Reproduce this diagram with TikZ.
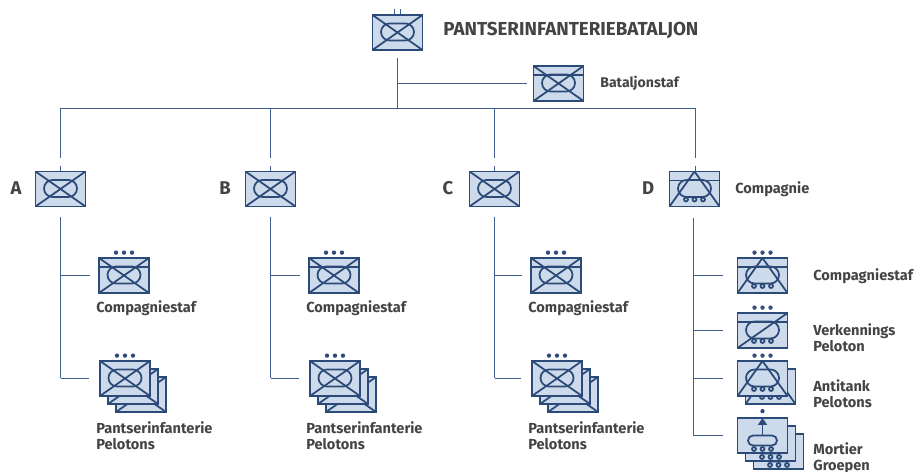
\documentclass[tikz,border=0pt]{standalone}
\usepackage{fontspec}
\setmainfont{Fira Sans}
\usetikzlibrary{arrows.meta}
\definecolor{symblue}{HTML}{2B4A78}
\definecolor{connblue}{HTML}{3F5F8C}
\definecolor{symfill}{HTML}{CDDAEB}
\definecolor{txtgrey}{HTML}{444444}
% symbol parts, drawn from the middle of the box
\newcommand{\partcross}{\draw[symline] (path picture bounding box.north west) -- (path picture bounding box.south east) (path picture bounding box.north east) -- (path picture bounding box.south west);}
\newcommand{\parttri}{\draw[symline] (path picture bounding box.south west) -- (path picture bounding box.north) -- (path picture bounding box.south east);}
\newcommand{\partdiag}{\draw[symline] (path picture bounding box.south west) -- (path picture bounding box.north east);}
\newcommand{\partstaf}{\draw[symline] ([yshift=-0.18cm]path picture bounding box.north west) -- ([yshift=-0.18cm]path picture bounding box.north east);}
\newcommand{\partoval}{\draw[symline, rounded corners=0.17cm, shift={(path picture bounding box.center)}] (-16.5,-9) rectangle (16.5,8);}
\newcommand{\partwheels}[1]{\foreach \wx in {-8.5,0,8.5} \draw[symline, shift={(path picture bounding box.center)}] (\wx,#1) circle (0.04cm);}
\newcommand{\partmortar}{\draw[symline, rounded corners=0.1cm, shift={(path picture bounding box.center)}] (-14.5,0) rectangle (14.5,10);
  \draw[symline, -{Triangle[length=0.14cm,width=0.18cm]}, shift={(path picture bounding box.center)}] (0,0) -- (0,-17.5);}
\newcommand{\unitdots}[1]{\foreach \dx in {-8,0,8} \fill[symblue] ([xshift=\dx*0.02cm,yshift=0.09cm]#1.north) circle (0.043cm);}
\tikzset{
  symline/.style={draw=symblue, line width=1pt},
  conn/.style={draw=connblue, line width=0.75pt},
  unitbox/.style={draw=symblue, fill=symfill, line width=1pt, inner sep=0pt, minimum width=1cm, minimum height=0.7cm},
  infbox/.style={unitbox, path picture={\partoval\partcross}},
  infstaf/.style={unitbox, path picture={\partoval\partstaf\partcross}},
  atkcomp/.style={unitbox, path picture={\partoval\partwheels{10.5}\partstaf\parttri}},
  atkbox/.style={unitbox, path picture={\partoval\partwheels{10.5}\parttri}},
  recbox/.style={unitbox, path picture={\partoval\partwheels{10.5}\partstaf\partdiag}},
  morbox/.style={unitbox, path picture={\partmortar\partwheels{13.5}}},
  lbl/.style={anchor=west, inner sep=0pt, align=left, text=txtgrey, font=\fontsize{8.3}{9.1}\selectfont\bfseries},
  lblbig/.style={lbl, font=\fontsize{10.7}{12}\selectfont\bfseries},
  letter/.style={lbl, anchor=center, font=\fontsize{10.5}{12}\selectfont\bfseries}
}
\begin{document}
\begin{tikzpicture}[x=0.02cm, y=-0.02cm]
\useasboundingbox (0,0) rectangle (917,472);

% Battalion
\node[infbox] (btl) at (397.5,32.5) {};
\node[lblbig] (btltxt) at (443,30) {PANTSERINFANTERIEBATALJON};
\draw[conn] ([xshift=-0.06cm]btl.north) -- ++(0,-5) ([xshift=0.06cm]btl.north) -- ++(0,-5);
\node[infstaf] (btlstaf) at (558.5,83.5) {};
\node[lbl, font=\fontsize{8}{9}\selectfont\bfseries] (btlstaftxt) at (600,83) {Bataljonstaf};
\coordinate (busL) at (60.5,108.5);
\coordinate (busR) at (695.5,108.5);
\draw[conn, shorten <=0.14cm] (btl.south) -- (btl.south |- busL);
\draw[conn, shorten >=0.12cm] (btl.south |- btlstaf.west) -- (btlstaf.west);
\draw[conn] (busL) -- (busR);

% Companies A, B, C
\foreach \co/\x/\sx/\tx/\lx in {A/60.5/124/96/16, B/270.5/334/306/225, C/494.5/556/528/448} {
  \node[infbox] (comp\co) at (\x,189) {};
  \node[letter] (let\co) at (\lx,188) {\co};
  \coordinate (bus\co) at (\x,108.5);
  \draw[conn, shorten >=0.26cm] (bus\co) -- (comp\co.north);
  \draw[conn] (comp\co.north) -- ++(0,-5);
  % Staff
  \node[infstaf] (staf\co) at (\sx,275.5) {};
  \unitdots{staf\co}
  \node[lbl] (staftxt\co) at (\tx,308) {Compagniestaf};
  % Platoons
  \node[infbox] (pel\co c) at (\sx+17,394.5) {};
  \node[infbox] (pel\co b) at (\sx+9,386.5) {};
  \node[infbox] (pel\co) at (\sx+1,378.5) {};
  \unitdots{pel\co}
  \node[lbl] (peltxt\co) at (\tx,436) {Pantserinfanterie\\Pelotons};
  \draw[conn, shorten <=0.2cm] (comp\co.south) -- (comp\co.south |- pel\co.west);
  \draw[conn, shorten >=0.2cm] (comp\co.south |- pel\co.west) -- (pel\co.west);
  \draw[conn, shorten >=0.16cm] (comp\co.south |- staf\co.west) -- (staf\co.west);
}

% Company D
\node[atkcomp] (compD) at (694.5,189) {};
\node[letter] (letD) at (648,188) {D};
\node[lbl] (comptxtD) at (735,189) {Compagnie};
\draw[conn, shorten >=0.26cm] (busR) -- (busR |- compD.north);
\draw[conn] (busR |- compD.north) -- ++(0,-5);
\coordinate (spineD) at (693.5,218);

\node[atkcomp] (stafD) at (762.5,275.5) {};
\unitdots{stafD}
\node[lbl] (staftxtD) at (813,276) {Compagniestaf};

\node[recbox] (recD) at (762.5,330.5) {};
\unitdots{recD}
\node[lbl] (rectxtD) at (813,337.5) {Verkennings\\Peloton};

\node[atkbox] (atkDb) at (770.5,386.5) {};
\node[atkbox] (atkD) at (762.5,378.5) {};
\unitdots{atkD}
\node[lbl] (atktxtD) at (813,393.5) {Antitank\\Pelotons};

\node[morbox] (morDc) at (778.5,451.5) {};
\node[morbox] (morDb) at (770.5,443.5) {};
\node[morbox] (morD) at (762.5,435.5) {};
\fill[symblue] ([yshift=0.12cm]morD.north) circle (0.043cm);
\node[lbl] (mortxtD) at (813,458.5) {Mortier\\Groepen};

\draw[conn] (spineD) |- ([xshift=-0.28cm]morD.west);
\draw[conn, shorten >=0.28cm] (spineD |- stafD.west) -- (stafD.west);
\draw[conn, shorten >=0.28cm] (spineD |- recD.west) -- (recD.west);
\draw[conn, shorten >=0.28cm] (spineD |- atkD.west) -- (atkD.west);
\end{tikzpicture}
\end{document}
